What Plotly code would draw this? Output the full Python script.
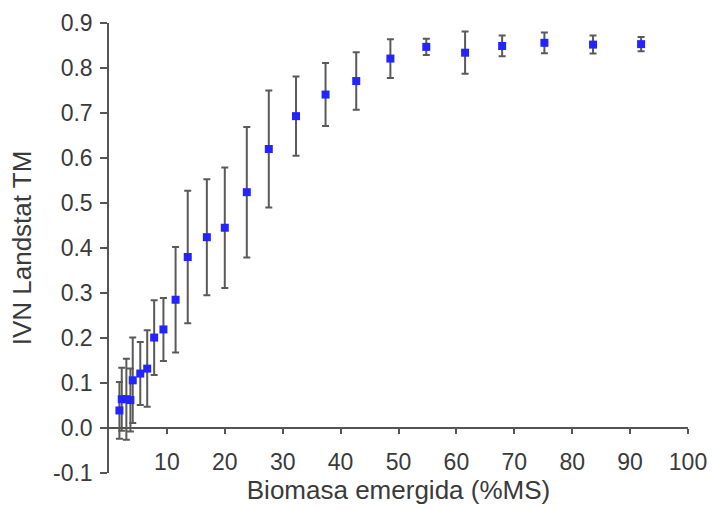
import plotly.graph_objects as go

# Data
biomasa = [1.8, 2.2, 3.0, 3.7, 4.1, 5.4, 6.6, 7.8, 9.4, 11.5, 13.6, 16.9, 20.0,
           23.8, 27.6, 32.3, 37.4, 42.7, 48.6, 54.8, 61.5, 67.9, 75.2, 83.6, 91.9]
ivn = [0.039, 0.064, 0.064, 0.062, 0.106, 0.121, 0.132, 0.201, 0.219, 0.285, 0.380,
       0.424, 0.445, 0.524, 0.620, 0.693, 0.741, 0.771, 0.821, 0.847, 0.834, 0.849,
       0.856, 0.852, 0.853]
err = [0.063, 0.070, 0.090, 0.070, 0.095, 0.070, 0.085, 0.083, 0.070, 0.117, 0.147,
       0.129, 0.134, 0.145, 0.130, 0.088, 0.070, 0.064, 0.043, 0.018, 0.047, 0.023,
       0.023, 0.020, 0.016]
x_ticks = [10, 20, 30, 40, 50, 60, 70, 80, 90, 100]
y_ticks = [-0.1, 0.0, 0.1, 0.2, 0.3, 0.4, 0.5, 0.6, 0.7, 0.8, 0.9]

axis_col = "#555555"
text_col = "#3a3a3a"
font = "Liberation Sans, Arial, sans-serif"

fig = go.Figure()
fig.add_trace(go.Scatter(
    x=biomasa, y=ivn, mode="markers",
    marker=dict(symbol="square", size=8, color="#2424ff", line=dict(width=0)),
    error_y=dict(type="data", array=err, visible=True, color="#5a5a5a",
                 thickness=2, width=3.5),
    showlegend=False,
))

fig.update_layout(
    width=712, height=509,
    margin=dict(l=109, r=24, t=23, b=36),
    paper_bgcolor="white", plot_bgcolor="white",
    font=dict(family=font, color=text_col),
    xaxis=dict(
        range=[0, 100], tickvals=x_ticks, ticktext=[str(v) for v in x_ticks],
        showgrid=False, zeroline=False, showline=True, linecolor=axis_col,
        linewidth=1.5, ticks="outside", ticklen=5, tickcolor=axis_col, tickwidth=1.5,
        anchor="free", position=0.1, ticklabelstandoff=9, automargin=False,
        tickfont=dict(size=23, color=text_col),
        title=dict(text="Biomasa emergida (%MS)", font=dict(size=26, color=text_col),
                   standoff=5),
    ),
    yaxis=dict(
        range=[-0.1, 0.9], tickvals=y_ticks, ticktext=[f"{v:.1f}" for v in y_ticks],
        showgrid=False, zeroline=False, showline=True, linecolor=axis_col,
        linewidth=1.5, ticks="outside", ticklen=7, tickcolor=axis_col, tickwidth=1.5,
        ticklabelstandoff=3, automargin=False,
        tickfont=dict(size=23, color=text_col),
        title=dict(text="IVN Landstat TM", font=dict(size=26, color=text_col),
                   standoff=14),
    ),
)

fig.write_html("out.html", config={"displayModeBar": False},
               post_script="document.body.style.margin='0';document.body.style.overflow='hidden';")
